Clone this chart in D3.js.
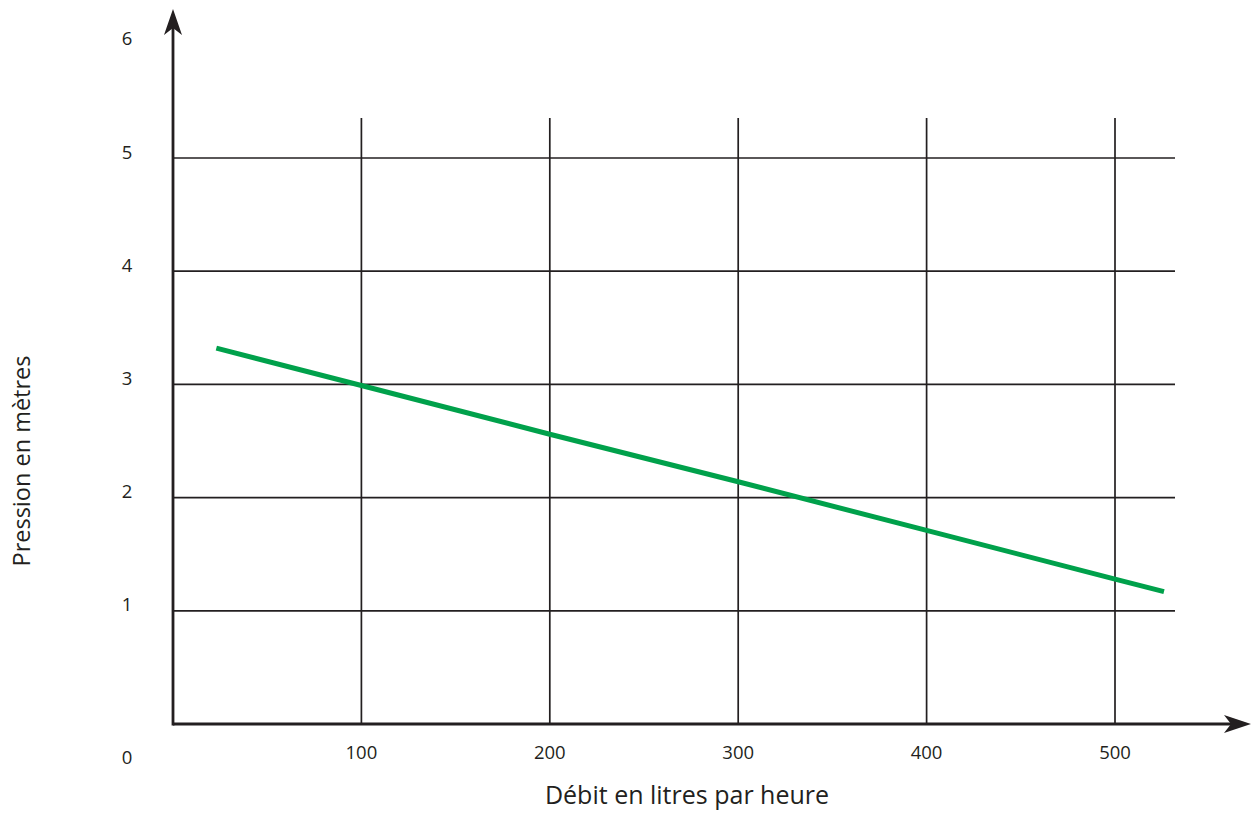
<!DOCTYPE html>
<html>
<head>
<meta charset="utf-8">
<script src="https://cdn.jsdelivr.net/npm/d3@7/dist/d3.min.js"></script>
<style>
  html, body { margin: 0; padding: 0; background: #ffffff; }
  svg { display: block; }
  text { font-family: "Open Sans", "Noto Sans", sans-serif; fill: #231f20; }
</style>
</head>
<body>
<svg id="chart" width="1251" height="836"></svg>
<script>
// Data
const flow = [23, 100, 200, 300, 400, 500, 526];          // litres par heure
const pressure = [3.32, 2.99, 2.56, 2.14, 1.71, 1.28, 1.17]; // mètres
const xTicks = [100, 200, 300, 400, 500];
const yTicks = [1, 2, 3, 4, 5];
const yLabels = [1, 2, 3, 4, 5, 6];
const xTitle = "Débit en litres par heure";
const yTitle = "Pression en mètres";

const svg = d3.select("#chart");
const ink = "#231f20";

const x = d3.scaleLinear().domain([0, 500]).range([173, 1115]);
const y = d3.scaleLinear().domain([0, 5]).range([724, 158]);

const gridRight = 1175, gridTop = 118;

// horizontal grid lines
svg.append("g").selectAll("line").data(yTicks).join("line")
  .attr("x1", x(0)).attr("x2", gridRight)
  .attr("y1", d => y(d)).attr("y2", d => y(d))
  .attr("stroke", ink).attr("stroke-width", 1.7);

// vertical grid lines
svg.append("g").selectAll("line").data(xTicks).join("line")
  .attr("x1", d => x(d)).attr("x2", d => x(d))
  .attr("y1", y(0)).attr("y2", gridTop)
  .attr("stroke", ink).attr("stroke-width", 1.7);

// axes
svg.append("line").attr("x1", x(0)).attr("x2", 1236).attr("y1", y(0)).attr("y2", y(0))
  .attr("stroke", ink).attr("stroke-width", 2.8);
svg.append("line").attr("x1", x(0)).attr("x2", x(0)).attr("y1", y(0) + 1.4).attr("y2", 22)
  .attr("stroke", ink).attr("stroke-width", 2.8);

// arrow heads
const ax = 1251, ay = y(0);
svg.append("path")
  .attr("d", `M${ax},${ay} L${ax - 27},${ay - 9} L${ax - 20},${ay} L${ax - 27},${ay + 9} Z`)
  .attr("fill", ink);
const tx = x(0), ty = 9;
svg.append("path")
  .attr("d", `M${tx},${ty} L${tx - 9},${ty + 26} L${tx},${ty + 19} L${tx + 9},${ty + 26} Z`)
  .attr("fill", ink);

// data line
const pts = flow.map((f, i) => [f, pressure[i]]);
svg.append("path")
  .datum(pts)
  .attr("d", d3.line().x(d => x(d[0])).y(d => y(d[1])))
  .attr("fill", "none").attr("stroke", "#00a14b").attr("stroke-width", 5);

// tick labels
svg.append("g").selectAll("text").data(xTicks).join("text")
  .attr("x", d => x(d)).attr("y", 759)
  .attr("text-anchor", "middle").attr("font-size", 18.5).text(d => d);

svg.append("g").selectAll("text").data(yLabels).join("text")
  .attr("x", 127).attr("y", d => y(d) + 0.5)
  .attr("text-anchor", "middle").attr("font-size", 18.5).text(d => d);

svg.append("text").attr("x", 127).attr("y", 764)
  .attr("text-anchor", "middle").attr("font-size", 18.5).text(0);

// axis titles
svg.append("text").attr("x", 687).attr("y", 804)
  .attr("text-anchor", "middle").attr("font-size", 25).text(xTitle);
svg.append("text")
  .attr("transform", "translate(30,461) rotate(-90)")
  .attr("text-anchor", "middle").attr("font-size", 23.5).text(yTitle);
</script>
</body>
</html>
